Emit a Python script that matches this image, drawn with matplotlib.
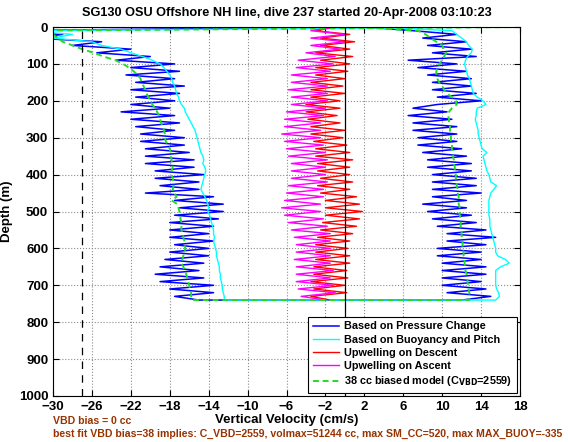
import numpy as np
import matplotlib
matplotlib.use("Agg")
from matplotlib import pyplot as plt

plt.rcParams['font.family'] = ['Liberation Sans', 'DejaVu Sans']
plt.rcParams['font.weight'] = 'bold'

# Depth samples (m), 0..740 every 10 m
depth = np.arange(0, 750, 10)

# Descent profiles (cm/s), listed from surface to bottom
blue_down = [0, -35, -29, -32, -25, -28, -22, -25.5, -20, -23.5,
             -17.5, -22, -17, -22.5, -17.5, -21.5, -16.5, -22, -17, -21.5,
             -17.5, -22, -18, -23, -17.5, -22, -17, -21.5, -17.5, -21,
             -16.5, -21, -16.5, -20.5, -16, -20.5, -15.5, -20.5, -15.5, -19.5,
             -14.5, -19.5, -15, -19, -15, -20.5, -13.5, -17.5, -12.5, -17,
             -12.5, -17.5, -13, -18, -13.5, -18, -14, -18, -13.5, -17.5,
             -14, -18, -14, -18.5, -14.5, -19, -15, -19.5, -14.5, -19,
             -13.5, -18, -13.5, -17.5, -15]
cyan_down = [18, -33, -28, -30, -26, -25, -23, -22, -20.8, -19.8,
             -19, -18.6, -18.3, -18, -17.8, -17.7, -17.5, -17.4, -17.3, -17.1,
             -17, -16.8, -16.5, -16.4, -16.2, -16, -15.8, -15.6, -15.4, -15.3,
             -15.2, -15.1, -15, -14.9, -14.8, -14.6, -14.5, -14.6, -14.4, -14.3,
             -14.4, -14.5, -14.6, -14.7, -14.8, -14.6, -14.4, -14.2, -14.1, -14,
             -14.1, -13.9, -13.8, -13.7, -13.6, -13.5, -13.5, -13.4, -13.5, -13.4,
             -13.3, -13.2, -13.2, -13.1, -13, -12.9, -12.9, -12.8, -12.8, -12.7,
             -12.6, -12.6, -12.5, -12.4, -12.4]
green_down = [18, -32, -30, -29.5, -29, -28, -27, -25.8, -24.8, -23.6,
              -22.8, -22.2, -21.7, -21.3, -21, -20.9, -20.7, -20.5, -20.4, -20.2,
              -20, -19.8, -19.5, -19.3, -19.1, -19, -18.9, -18.7, -18.6, -18.5,
              -18.5, -18.4, -18.2, -18, -17.9, -17.9, -17.8, -17.8, -17.7, -17.8,
              -17.8, -17.7, -17.6, -17.6, -17.7, -17.5, -17.3, -17.8, -17.2, -17.1,
              -17, -16.9, -16.9, -16.8, -16.8, -16.8, -16.7, -16.6, -16.5, -16.5,
              -16.4, -16.5, -16.6, -16.7, -16.8, -16.6, -16.4, -16.3, -16.2, -16.1,
              -16, -15.9, -15.8, -15.8, -15.7]
red_down = [-1, -3, 0.5, -2.5, 1, -2.5, 0.5, -3, 0.8, -2.5,
            0.5, -3, 0.3, -3, 0, -3.5, -0.2, -3.5, 0, -3.5,
            -0.5, -4, -0.5, -4, -0.8, -3.8, -0.5, -3.5, 0, -3.5,
            -0.2, -3.2, 0.2, -3, 0.5, -3, 0.8, -2.8, 0.5, -2.8,
            0.5, -2.5, 0.8, -2.8, 0.5, -2.5, 1.2, -2, 1.5, -2,
            1.8, -2, 1.5, -2.3, 1.2, -2.5, 0.8, -2.8, 0.5, -3,
            0.3, -3, 0.5, -3, 0.5, -3.2, 0.2, -3.2, 0.3, -3.5,
            0, -3.2, 0.2, -3.5, -1.5]

# Ascent profiles (cm/s), also listed from surface to bottom
blue_up = [2, 7, 11.5, 8, 12.5, 8.5, 13, 9, 13.5, 6.5,
           11.5, 7.5, 12.5, 8.5, 13, 9, 13, 9, 13.5, 9.5,
           14, 9.5, 7, 10.5, 6.5, 11, 7, 11.5, 7, 11.5,
           7.5, 11.5, 7.5, 12, 8, 12.5, 8.5, 13, 8.5, 13,
           9, 13.5, 9, 13.5, 9, 14, 9, 12.5, 8, 12.5,
           8.5, 13, 9, 13.5, 9.5, 14.5, 10.5, 15.5, 10.5, 14.5,
           9.5, 14, 9.5, 14, 10, 14.5, 10, 14.5, 10, 14,
           10, 14.5, 10.5, 15, 12]
cyan_up = [3, 11, 11.5, 12, 12.5, 12.7, 13.1, 13, 12.6, 12.4,
           12.3, 12.4, 12.5, 12.6, 12.8, 12.9, 13, 13.1, 13.2, 13.6,
           14.2, 14.5, 13.6, 13.5, 13.5, 13.4, 13.5, 13.6, 13.7, 13.7,
           13.8, 13.9, 14, 14.1, 14.6, 14.2, 14.3, 14.4, 14.5, 14.6,
           14.8, 14.9, 15, 15.6, 15.3, 15, 14.9, 14.8, 14.8, 14.8,
           14.8, 14.8, 14.9, 14.9, 14.9, 15, 15.1, 15.2, 15.3, 15.4,
           15.5, 15.5, 15.7, 16.5, 16.9, 16, 15.5, 15.5, 15.5, 15.5,
           15.5, 15.6, 15.8, 15.9, 15.5]
green_up = [1, 7.5, 8.3, 8.8, 9.4, 10, 10.2, 10.4, 10.2, 10,
            9.7, 9.5, 9.4, 9.4, 9.5, 9.7, 10, 10.2, 10.5, 11,
            11.4, 11.5, 11, 10.7, 10.6, 10.7, 10.7, 10.8, 10.8, 10.9,
            10.9, 10.9, 11, 11, 11.1, 11.1, 11.2, 11.2, 11.3, 11.3,
            11.4, 11.4, 11.5, 11.5, 11.6, 11.6, 11.7, 11.7, 11.7, 11.8,
            11.8, 11.8, 11.9, 11.9, 11.9, 12, 12, 12, 12.1, 12.1,
            12.1, 12.2, 12.2, 12.3, 12.3, 12.4, 12.4, 12.5, 12.6, 12.6,
            12.7, 12.7, 12.8, 12.8, 12.8]
magenta_up = [-1, -3.5, 0, -3.5, 0, -3.5, -0.5, -4, -1, -4.8,
              -1.2, -5, -1.5, -5.5, -1.8, -5.5, -1.8, -5.8, -1.8, -5.5,
              -1.8, -5.5, -2, -6, -2.2, -6.2, -2.5, -6.2, -2.5, -6.5,
              -2.5, -6.2, -2.2, -6, -2, -5.8, -1.8, -5.5, -2, -5.5,
              -2, -5.5, -1.8, -5.8, -2.2, -6, -2.2, -6.2, -2.5, -6.5,
              -2.5, -6.2, -2.2, -5.8, -1.8, -5.5, -1.5, -5.2, -1.5, -5,
              -1.5, -5, -1.5, -5.2, -1.5, -5, -1.2, -5, -1.5, -5,
              -1.2, -4.8, -1, -4.5, -2]

xticks = [-30, -26, -22, -18, -14, -10, -6, -2, 2, 6, 10, 14, 18]
yticks = list(range(0, 1001, 100))

title = "SG130 OSU Offshore NH line, dive 237 started 20-Apr-2008 03:10:23"
note1 = "VBD bias = 0 cc"
note2 = ("best fit VBD bias=38 implies: C_VBD=2559, volmax=51244 cc, "
         "max SM_CC=520, max MAX_BUOY=-335")

# whole dive: descent then ascent back to the surface
dive_depth = np.concatenate([depth, depth[::-1]])


def whole_dive(down, up):
    return np.concatenate([down, up[::-1]])


fig = plt.figure(figsize=(5.68, 4.42), dpi=100)
ax = fig.add_axes([53 / 568, 1 - 396 / 442, 467 / 568, 369 / 442])

ax.plot(whole_dive(blue_down, blue_up), dive_depth, color='#0000ff', lw=1.1,
        label='Based on Pressure Change')
ax.plot(whole_dive(cyan_down, cyan_up), dive_depth, color='#00ffff', lw=1.0,
        label='Based on Buoyancy and Pitch')
ax.plot(red_down, depth, color='#ff0000', lw=1.0, label='Upwelling on Descent')
ax.plot(magenta_up[::-1], depth[::-1], color='#ff00ff', lw=1.0,
        label='Upwelling on Ascent')
ax.plot(whole_dive(green_down, green_up), dive_depth, color='#22dd22', lw=1.4,
        ls='--', dashes=(3, 2),
        label='38 cc biased model (C$_{\\mathbf{VBD}}$=2559)')

ax.axvline(0, color='k', lw=0.9)
ax.axvline(-27, color='k', lw=0.9, ls='--', dashes=(6, 5))

ax.set_xlim(-30, 18)
ax.set_ylim(1000, 0)
ax.set_xticks(xticks)
ax.set_yticks(yticks)
ax.set_xticklabels([str(t).replace('-', '\u2212') for t in xticks])
ax.tick_params(direction='in', top=True, right=True, labelsize=9.5,
               length=4, width=0.8)
for lab in ax.get_xticklabels() + ax.get_yticklabels():
    lab.set_fontweight('bold')
ax.grid(True, color='0.55', ls=':', lw=0.8)
for s in ax.spines.values():
    s.set_linewidth(0.8)

ax.set_title(title, fontsize=9.2, fontweight='bold', pad=8)
ax.set_xlabel('Vertical Velocity (cm/s)', fontsize=9.5, fontweight='bold',
              labelpad=1)
ax.set_ylabel('Depth (m)', fontsize=9.5, fontweight='bold', labelpad=4)

leg = ax.legend(loc='lower right', fontsize=7.8, frameon=True, fancybox=False,
                edgecolor='k', framealpha=1, handlelength=2.4,
                borderpad=0.45, labelspacing=0.3, handletextpad=0.5,
                borderaxespad=0.25)
leg.get_frame().set_linewidth(0.8)
for t in leg.get_texts():
    t.set_fontweight('bold')

fig.text(53 / 568, 1 - 421 / 442, note1, color='#993300', fontsize=7.6,
         fontweight='bold', va='center')
fig.text(53 / 568, 1 - 434 / 442, note2, color='#993300', fontsize=7.6,
         fontweight='bold', va='center')

fig.savefig('out.png', dpi=100)
